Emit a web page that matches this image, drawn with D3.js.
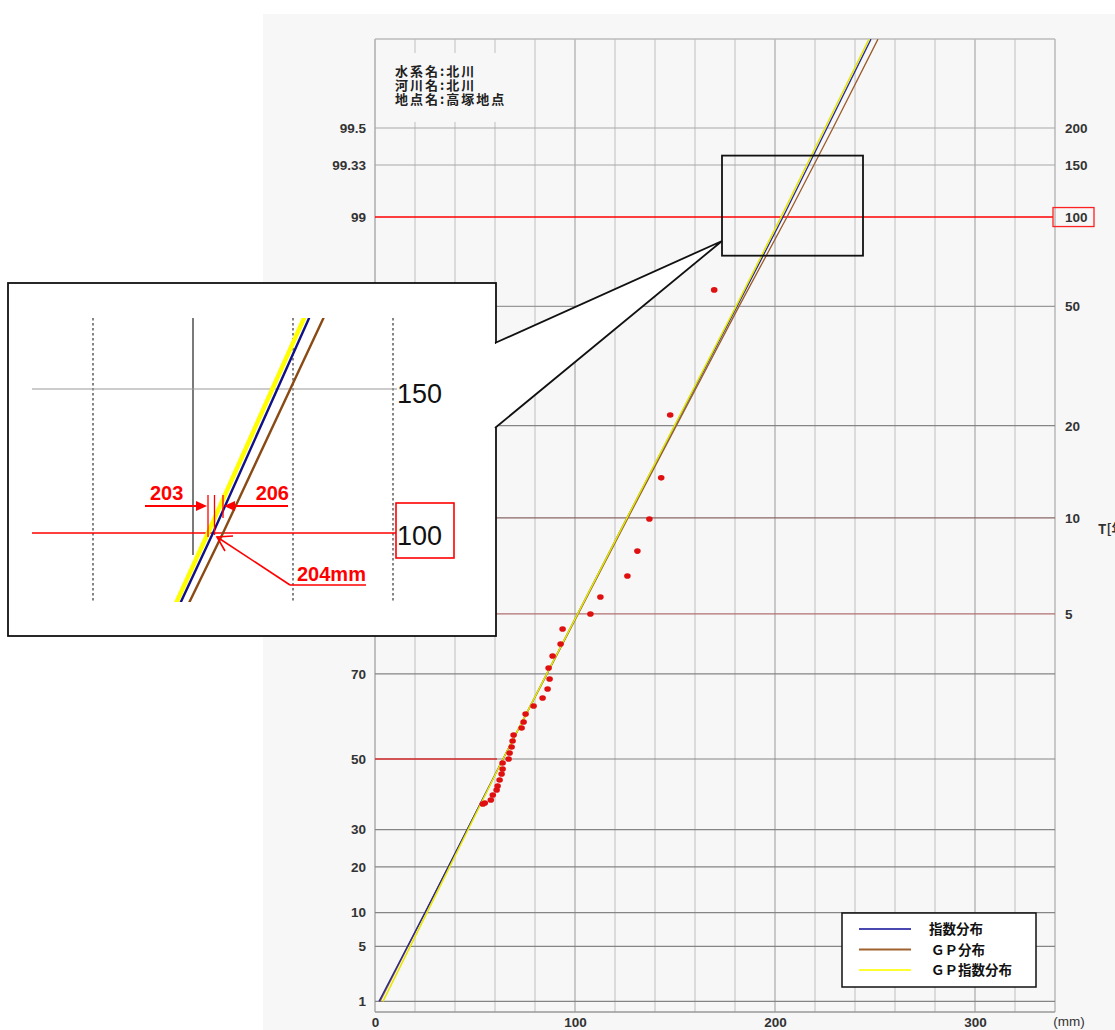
<!DOCTYPE html>
<html><head><meta charset="utf-8">
<script src="https://cdn.jsdelivr.net/npm/d3@7"></script>
<style>
body{margin:0;background:#fff;}
svg{display:block;}
</style>
</head><body>
<svg id="c" width="1115" height="1030"></svg>
<script>
// ---------------- data ----------------
const probTicks  = [1, 5, 10, 20, 30, 50, 70, 80, 90, 95, 98, 99, 99.333, 99.5]; // non-exceedance %
const probLabels = ["1","5","10","20","30","50","70","80","90","95","98","99","99.33","99.5"];
const returnPeriods = [5, 10, 20, 50, 100, 150, 200];
const mmTicks = [0, 100, 200, 300];

const lineProbs  = [1, 10, 50, 90, 98, 99, 99.5, 99.75];
const expDist    = [2, 25, 64, 126, 181, 204, 226, 248];       // 指数分布
const gpDist     = [2.5, 25, 64, 126.5, 182, 206, 229, 251.5]; // ＧＰ分布
const gpExpDist  = [4, 26, 64, 126, 180.5, 203, 225, 247];     // ＧＰ指数分布

const obsMm   = [169.6,147.6,143.1,137.2,131.2,126.2,112.7,107.7,93.8,92.8,88.8,86.8,87.3,86.3,83.8,79.3,75.3,74.3,73.3,69.3,68.8,68.3,67.3,66.8,63.8,63.8,63.3,62.3,61.3,60.8,58.9,57.9,54.9,53.9];
const obsProb = [98.24,95.39,92.58,89.91,87.23,84.70,82.24,79.99,77.80,75.41,73.34,71.13,68.99,66.95,65.02,63.23,61.40,59.49,58.04,56.28,54.75,53.19,51.60,49.98,48.90,47.25,45.86,44.17,42.47,41.34,39.91,38.48,37.63,37.34];

const infoLines = ["水系名:北川", "河川名:北川", "地点名:高塚地点"];
const legendNames = ["指数分布", "ＧＰ分布", "ＧＰ指数分布"];
const legendColors = ["#4848b0", "#a0622e", "#ffff30"];

const designReturn = 100;           // T = 100
const guide50 = 61;                 // red guide on 50% line (mm)
const zoomMm = [173.5, 244];
const zoomProb = [98.65, 99.38];
const insetGridMm = [180, 200, 220, 240];
const insetReadings = [203, 204, 206];

// --------------- helpers ----------------
const g = p => -Math.log(-Math.log(p / 100));
const tToP = T => 100 * (1 - 1 / T);

const svg = d3.select("#c");
const W = 1115, H = 1030;
const L = 375, R = 1055, T0 = 39, B = 1012;

const x = d3.scaleLinear().domain([0, 340]).range([L, R]);
const y = d3.scaleLinear().domain([-1.61, 5.991]).range([B, T0]);

const FONT = "'Liberation Sans', Arial, sans-serif";
const JFONT = "'Noto Sans CJK JP', 'Noto Sans', sans-serif";

// panel background
svg.append("rect").attr("x", 263).attr("y", 14).attr("width", W - 263).attr("height", H - 14).attr("fill", "#f7f7f7");

// ---------------- grid ----------------
const gridG = svg.append("g");
const vgrid = d3.range(0, 341, 20);
gridG.selectAll("line.v").data(vgrid).join("line")
  .attr("x1", d => x(d)).attr("x2", d => x(d)).attr("y1", T0).attr("y2", B)
  .attr("stroke", d => d === 0 ? "#999" : (d % 100 === 0 ? "#a8a8a8" : "#c8c8c8"))
  .attr("stroke-width", d => d === 340 ? 2 : 1.2);

// cover behind info text
svg.append("rect").attr("x", 381).attr("y", 53).attr("width", 148).attr("height", 69).attr("fill", "#f7f7f7");

const hColor = p => {
  if (p >= 99.3) return "#a8a8a8";
  if (p === 98) return "#999";
  if (p === 90) return "#8a6666";
  if (p === 80) return "#b07070";
  return "#858585";
};
gridG.selectAll("line.h").data(probTicks.filter(p => p !== 99)).join("line")
  .attr("x1", L).attr("x2", R).attr("y1", d => y(g(d))).attr("y2", d => y(g(d)))
  .attr("stroke", hColor).attr("stroke-width", 1.2);

// top / bottom borders
svg.append("line").attr("x1", L).attr("x2", R).attr("y1", T0).attr("y2", T0).attr("stroke", "#bbb").attr("stroke-width", 1.5);
svg.append("line").attr("x1", L).attr("x2", R).attr("y1", B).attr("y2", B).attr("stroke", "#999").attr("stroke-width", 1.5);

// red guide on 50% line
svg.append("line").attr("x1", x(0)).attr("x2", x(guide50)).attr("y1", y(g(50))).attr("y2", y(g(50)))
  .attr("stroke", "#d83030").attr("stroke-width", 1.3);

// red 100-year line
svg.append("line").attr("x1", L).attr("x2", 1053).attr("y1", y(g(tToP(designReturn)))).attr("y2", y(g(tToP(designReturn))))
  .attr("stroke", "#ff0000").attr("stroke-width", 1.5);

// ---------------- info text ----------------
svg.append("g").selectAll("text").data(infoLines).join("text")
  .attr("x", 395).attr("y", (d, i) => 76 + i * 14)
  .attr("font-family", JFONT).attr("font-size", 13).attr("font-weight", 700)
  .attr("letter-spacing", 2).attr("fill", "#222").text(d => d);

// ---------------- axes ----------------
const leftAxis = d3.axisLeft(y).tickValues(probTicks.map(g))
  .tickFormat((d, i) => probLabels[i]).tickSize(0).tickPadding(9);
const la = svg.append("g").attr("transform", `translate(${L},0)`).call(leftAxis);
la.select(".domain").remove();

const rightAxis = d3.axisRight(y).tickValues(returnPeriods.map(t => g(tToP(t))))
  .tickFormat((d, i) => String(returnPeriods[i])).tickSize(0).tickPadding(10);
const ra = svg.append("g").attr("transform", `translate(${R},0)`).call(rightAxis);
ra.select(".domain").remove();

const bottomAxis = d3.axisBottom(x).tickValues(mmTicks).tickSize(0).tickPadding(5);
const ba = svg.append("g").attr("transform", `translate(0,${B})`).call(bottomAxis);
ba.select(".domain").remove();

svg.selectAll(".tick text").attr("font-family", FONT).attr("font-size", 13.5)
  .attr("font-weight", 700).attr("fill", "#333");

// red box around 100 on right
svg.append("rect").attr("x", 1053).attr("y", y(g(tToP(designReturn))) - 9.5).attr("width", 41).attr("height", 19)
  .attr("fill", "none").attr("stroke", "#ff2020").attr("stroke-width", 1.3);

svg.append("text").attr("x", 1069).attr("y", 1026).attr("text-anchor", "middle")
  .attr("font-family", FONT).attr("font-size", 13.5).attr("font-weight", 400).attr("fill", "#333").text("(mm)");
svg.append("text").attr("x", 1098).attr("y", y(g(tToP(10))) + 16)
  .attr("font-family", JFONT).attr("font-size", 13.5).attr("font-weight", 700).attr("fill", "#333").text("T[年]");

// ---------------- fitted lines ----------------
svg.append("clipPath").attr("id", "plotclip").append("rect")
  .attr("x", L).attr("y", T0).attr("width", R - L).attr("height", B - T0);

const mkPts = arr => lineProbs.map((p, i) => ({ p, mm: arr[i] }));
const series = [
  { pts: mkPts(gpDist), color: "#9a5a28", w: 1.3, inColor: "#8a4a14" },
  { pts: mkPts(expDist), color: "#2a2a90", w: 1.3, inColor: "#10108a" },
  { pts: mkPts(gpExpDist), color: "#e6e600", w: 1.5, inColor: "#ffff00" }
];
const mainLine = d3.line().x(d => x(d.mm)).y(d => y(g(d.p)));
svg.append("g").attr("clip-path", "url(#plotclip)").selectAll("path").data(series).join("path")
  .attr("d", d => mainLine(d.pts)).attr("fill", "none")
  .attr("stroke", d => d.color).attr("stroke-width", d => d.w);

// observed points
svg.append("g").selectAll("ellipse").data(obsMm.map((m, i) => ({ mm: m, p: obsProb[i] }))).join("ellipse")
  .attr("cx", d => x(d.mm)).attr("cy", d => y(g(d.p))).attr("rx", 3.3).attr("ry", 2.8)
  .attr("fill", "#e01010");

// zoom window rectangle
const zx1 = x(zoomMm[0]), zx2 = x(zoomMm[1]);
const zy1 = y(g(zoomProb[1])), zy2 = y(g(zoomProb[0]));
svg.append("rect").attr("x", zx1).attr("y", zy1).attr("width", zx2 - zx1).attr("height", zy2 - zy1)
  .attr("fill", "none").attr("stroke", "#111").attr("stroke-width", 1.8);

// ---------------- legend ----------------
const lg = svg.append("g");
lg.append("rect").attr("x", 842).attr("y", 913).attr("width", 194).attr("height", 74)
  .attr("fill", "#fff").attr("stroke", "#111").attr("stroke-width", 1.5);
legendNames.forEach((n, i) => {
  const yy = 929 + i * 20.5;
  lg.append("line").attr("x1", 859).attr("x2", 911).attr("y1", yy).attr("y2", yy)
    .attr("stroke", legendColors[i]).attr("stroke-width", 2);
  lg.append("text").attr("x", i === 0 ? 929 : 931).attr("y", yy + 5)
    .attr("font-family", JFONT).attr("font-size", 13.5).attr("font-weight", 700).attr("fill", "#111").text(n);
});

// ---------------- inset ----------------
const ins = svg.append("g");
ins.append("rect").attr("x", 8).attr("y", 283).attr("width", 488).attr("height", 353)
  .attr("fill", "#fff").attr("stroke", "#111").attr("stroke-width", 1.8);
// callout wedge
const tip = [zx1, 241];
ins.append("path").attr("d", `M496,343 L${tip[0]},${tip[1]} L496,428 Z`).attr("fill", "#fff").attr("stroke", "none");
ins.append("rect").attr("x", 493).attr("y", 344).attr("width", 6).attr("height", 83).attr("fill", "#fff");
ins.append("path").attr("d", `M495,343 L${tip[0]},${tip[1]} L495,428`).attr("fill", "none")
  .attr("stroke", "#111").attr("stroke-width", 1.8);

const xIn = d3.scaleLinear().domain([200, 240]).range([193, 393]);
const yIn = d3.scaleLinear().domain([g(tToP(100)), g(tToP(150))]).range([533, 389]);
const inTop = 318, inBot = 602, inL = 32, inR = 397;

ins.selectAll("line.ig").data(insetGridMm).join("line")
  .attr("x1", d => xIn(d)).attr("x2", d => xIn(d))
  .attr("y1", inTop).attr("y2", d => d === 200 ? 555 : inBot)
  .attr("stroke", d => d === 200 ? "#222" : "#444").attr("stroke-width", d => d === 200 ? 1.2 : 1.3)
  .attr("stroke-dasharray", d => d === 200 ? null : "2.5,2.5");

ins.append("line").attr("x1", inL).attr("x2", inR).attr("y1", yIn(g(tToP(150)))).attr("y2", yIn(g(tToP(150))))
  .attr("stroke", "#999").attr("stroke-width", 1.2);
ins.append("line").attr("x1", inL).attr("x2", 396).attr("y1", yIn(g(tToP(100)))).attr("y2", yIn(g(tToP(100))))
  .attr("stroke", "#ff0000").attr("stroke-width", 1.4);

ins.append("text").attr("x", 397).attr("y", yIn(g(tToP(150))) + 14).attr("font-family", FONT)
  .attr("font-size", 27).attr("fill", "#111").text("150");
ins.append("text").attr("x", 397).attr("y", yIn(g(tToP(100))) + 12).attr("font-family", FONT)
  .attr("font-size", 27).attr("fill", "#111").text("100");
ins.append("rect").attr("x", 396).attr("y", 503).attr("width", 58).attr("height", 55)
  .attr("fill", "none").attr("stroke", "#ff0000").attr("stroke-width", 1.6);

svg.append("clipPath").attr("id", "inclip").append("rect")
  .attr("x", inL).attr("y", inTop).attr("width", inR - inL).attr("height", inBot - inTop);
const inLine = d3.line().x(d => xIn(d.mm)).y(d => yIn(g(d.p)));
const inOrder = [series[2], series[1], series[0]];
ins.append("g").attr("clip-path", "url(#inclip)").selectAll("path").data(inOrder).join("path")
  .attr("d", d => inLine(d.pts)).attr("fill", "none")
  .attr("stroke", d => d.inColor).attr("stroke-width", (d, i) => i === 0 ? 4.5 : 2.4);

// annotations
const red = "#ff0000";
const y100 = yIn(g(tToP(100)));
const aY = 506, tickTop = 495;
const ann = ins.append("g");
const tickBottoms = [y100 + 4, y100 + 2, y100 - 15];
insetReadings.forEach((v, i) => {
  const xv = xIn(v) + (i === 1 ? 1.5 : 0);
  ann.append("line").attr("x1", xv).attr("x2", xv).attr("y1", tickTop).attr("y2", tickBottoms[i])
    .attr("stroke", red).attr("stroke-width", 1.3);
});
// 203 arrow (pointing right)
const x203 = xIn(insetReadings[0]);
ann.append("line").attr("x1", 145).attr("x2", x203 - 6).attr("y1", aY).attr("y2", aY).attr("stroke", red).attr("stroke-width", 2);
ann.append("path").attr("d", `M${x203 - 1},${aY} L${x203 - 12},${aY - 5} L${x203 - 12},${aY + 5} Z`).attr("fill", red);
ann.append("text").attr("x", 150).attr("y", 500).attr("font-family", FONT).attr("font-size", 20)
  .attr("font-weight", 700).attr("fill", red).text(String(insetReadings[0]));
// 206 arrow (pointing left)
const x206 = xIn(insetReadings[2]);
ann.append("line").attr("x1", x206 + 6).attr("x2", 288).attr("y1", aY).attr("y2", aY).attr("stroke", red).attr("stroke-width", 2);
ann.append("path").attr("d", `M${x206 + 1},${aY} L${x206 + 12},${aY - 5} L${x206 + 12},${aY + 5} Z`).attr("fill", red);
ann.append("text").attr("x", 289).attr("y", 500).attr("text-anchor", "end").attr("font-family", FONT).attr("font-size", 20)
  .attr("font-weight", 700).attr("fill", red).text(String(insetReadings[2]));
// 204mm leader
const x204 = xIn(insetReadings[1]) + 4, y204 = y100 + 4;
ann.append("line").attr("x1", 290).attr("x2", 366).attr("y1", 585).attr("y2", 585).attr("stroke", red).attr("stroke-width", 1.6);
ann.append("line").attr("x1", 290).attr("y1", 585).attr("x2", x204).attr("y2", y204).attr("stroke", red).attr("stroke-width", 1.6);
ann.append("path").attr("d", `M${x204 + 16},${y204 - 1} L${x204},${y204} L${x204 + 8},${y204 + 14}`)
  .attr("fill", "none").attr("stroke", red).attr("stroke-width", 1.6);
ann.append("text").attr("x", 297).attr("y", 581).attr("font-family", FONT).attr("font-size", 20)
  .attr("font-weight", 700).attr("fill", red).text(insetReadings[1] + "mm");
</script>
</body></html>
